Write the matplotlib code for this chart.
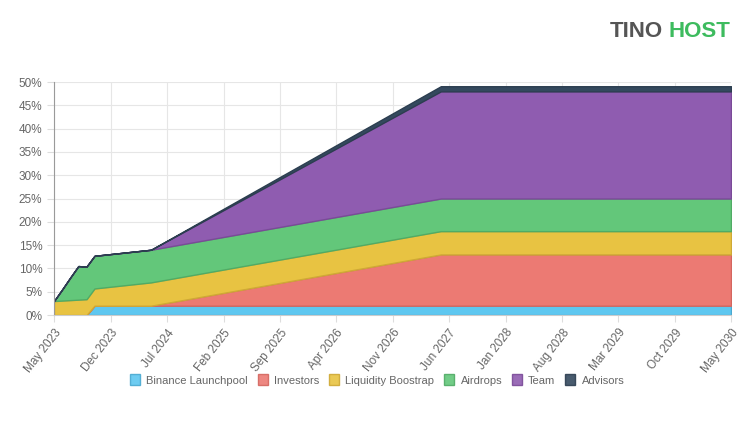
import matplotlib.pyplot as plt
from matplotlib.patches import Patch
import pandas as pd

plt.rcParams["font.family"] = ["Liberation Sans", "DejaVu Sans"]

# breakpoints of the vesting schedule (months after May 2023), % of supply
months = [0, 1, 2, 3, 4, 5, 12, 48, 84]
binance = [0, 0, 0, 0, 0, 2, 2, 2, 2]
investors = [0, 0, 0, 0, 0, 0, 0, 11, 11]
liquidity = [3.0, 3.1, 3.2, 3.3, 3.4, 3.7, 5.0, 5.0, 5.0]
airdrops = [0, 2.4, 4.8, 7.2, 7.0, 7.0, 7.0, 7.0, 7.0]
team = [0, 0, 0, 0, 0, 0, 0, 23, 23]
advisors = [0, 0, 0, 0, 0, 0, 0, 1.1, 1.1]

labels = ["Binance Launchpool", "Investors", "Liquidity Boostrap", "Airdrops", "Team", "Advisors"]
colors = ["#5ec7f0", "#ec7a73", "#e8c342", "#63c77a", "#8f5cb0", "#34495e"]
edges = ["#4aa9d0", "#d4665f", "#cfa935", "#50ab65", "#7a4a98", "#2c3e50"]

tick_labels = ["May 2023", "Dec 2023", "Jul 2024", "Feb 2025", "Sep 2025", "Apr 2026", "Nov 2026",
               "Jun 2027", "Jan 2028", "Aug 2028", "Mar 2029", "Oct 2029", "May 2030"]
y_ticks = [0, 5, 10, 15, 20, 25, 30, 35, 40, 45, 50]

start = pd.Timestamp("2023-05-01")
x = [start + pd.DateOffset(months=m) for m in months]
tick_dates = [start + pd.DateOffset(months=7 * i) for i in range(len(tick_labels))]

fig = plt.figure(figsize=(7.5, 4.25), dpi=100)
ax = fig.add_axes([0.072, 0.2588, 0.9027, 0.5482])

polys = ax.stackplot(x, binance, investors, liquidity, airdrops, team, advisors,
                     colors=colors, linewidth=1.0, zorder=2)
for p, ec in zip(polys, edges):
    p.set_edgecolor(ec)

ax.set_xlim(x[0], x[-1])
ax.set_ylim(0, 50)
ax.set_yticks(y_ticks)
ax.set_yticklabels([f"{v}%" for v in y_ticks])
ax.set_xticks(tick_dates)
ax.set_xticklabels(tick_labels, rotation=52, ha="right", va="top", rotation_mode="anchor")

ax.grid(True, color="#e6e6e6", linewidth=0.8, zorder=0)
ax.set_axisbelow(True)
for s in ["top", "right"]:
    ax.spines[s].set_visible(False)
ax.spines["left"].set_color("#9a9a9a")
ax.spines["bottom"].set_color("#cccccc")
ax.tick_params(axis="both", colors="#dddddd", labelcolor="#666666", labelsize=8.5, length=5, width=0.8)

handles = [Patch(facecolor=c, edgecolor=e, alpha=0.9) for c, e in zip(colors, edges)]
fig.legend(handles, labels, loc="center", bbox_to_anchor=(0.503, 0.106), ncol=6, frameon=False,
           fontsize=8, labelcolor="#666666", handlelength=0.9, handleheight=1.1,
           handletextpad=0.55, columnspacing=0.9)

# logo
fig.text(0.813, 0.927, "TINO", color="#555555", fontsize=16, fontweight="bold",
         va="center", ha="left")
fig.text(0.891, 0.927, "HOST", color="#3dbb5e", fontsize=16, fontweight="bold",
         va="center", ha="left")

fig.savefig("out.png", dpi=100, facecolor="white")
